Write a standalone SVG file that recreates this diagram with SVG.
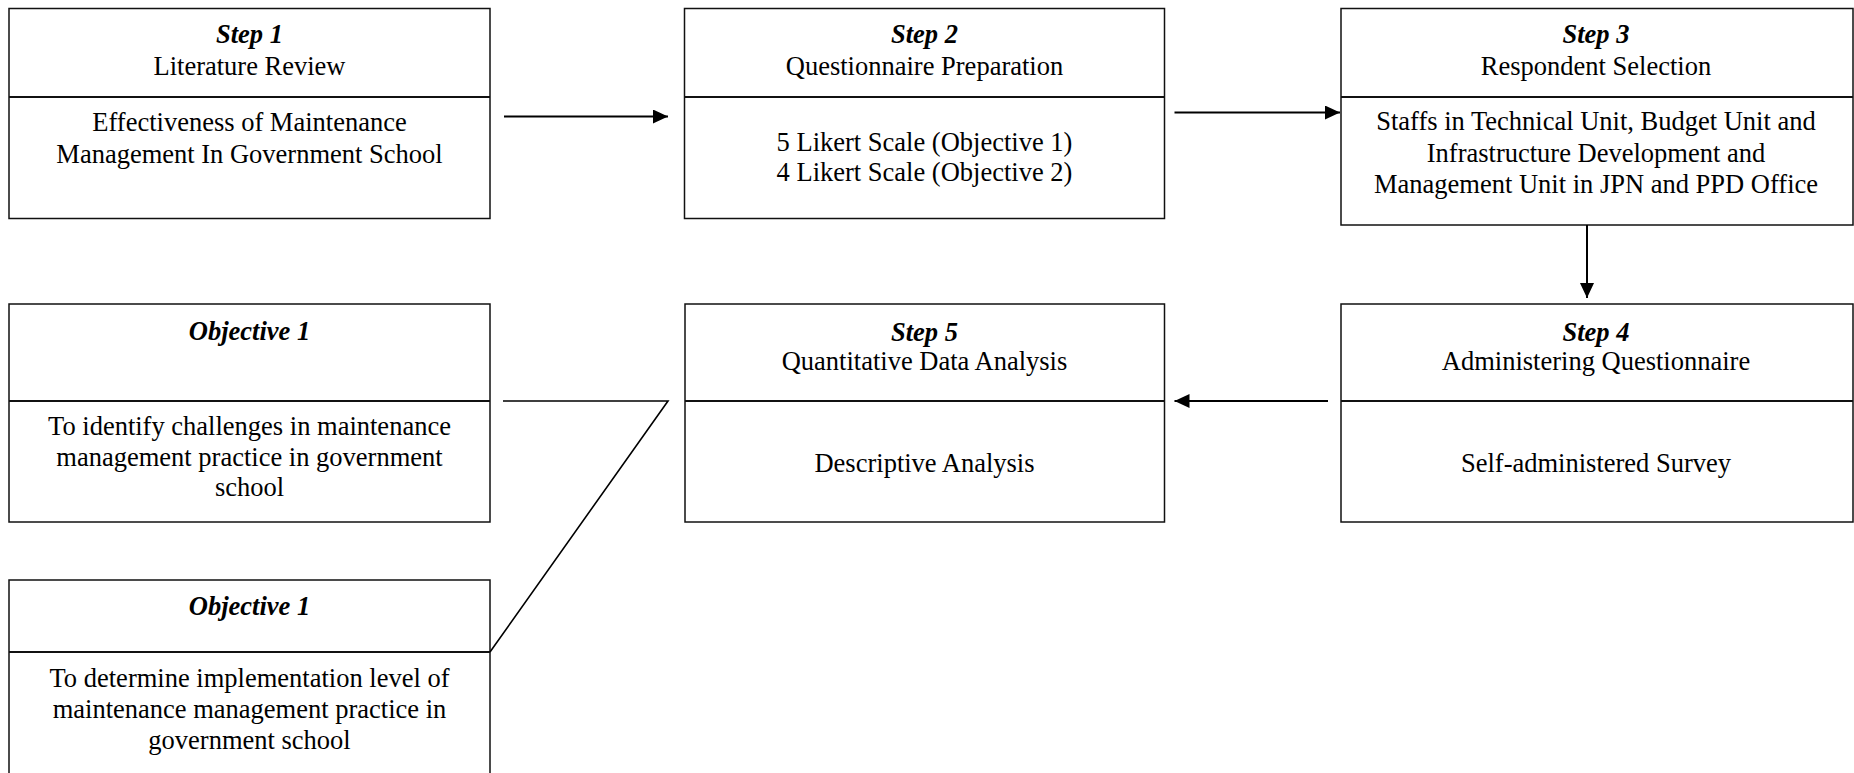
<svg xmlns="http://www.w3.org/2000/svg" width="1854" height="773" viewBox="0 0 1854 773">
<style>
.box{fill:#fff;stroke:#111;stroke-width:1.5}
.div{stroke:#111;stroke-width:2}
text{font-family:"Liberation Serif","Times New Roman",serif;font-size:26.5px;fill:#000;text-anchor:middle}
.h{font-weight:bold;font-style:italic}
.conn{fill:none;stroke:#000;stroke-width:2}
.plain{fill:none;stroke:#000;stroke-width:1.6}
</style>
<defs>
<marker id="ah" markerUnits="userSpaceOnUse" markerWidth="16" markerHeight="16" refX="15" refY="7" orient="auto">
<path d="M0,0 L15,7 L0,14 Z" fill="#000"/>
</marker>
</defs>
<rect width="1854" height="773" fill="#fff"/>
<g id="step1">
<rect class="box" x="9" y="8.5" width="481" height="210"/>
<line class="div" x1="9" y1="97" x2="490" y2="97"/>
<text x="249.5" y="43" class="h">Step 1</text>
<text x="249.5" y="75">Literature Review</text>
<text x="249.5" y="131">Effectiveness of Maintenance</text>
<text x="249.5" y="163">Management In Government School</text>
</g>
<g id="step2">
<rect class="box" x="684.5" y="8.5" width="480" height="210"/>
<line class="div" x1="684.5" y1="97" x2="1164.5" y2="97"/>
<text x="924.5" y="43" class="h">Step 2</text>
<text x="924.5" y="75">Questionnaire Preparation</text>
<text x="924.5" y="151">5 Likert Scale (Objective 1)</text>
<text x="924.5" y="181">4 Likert Scale (Objective 2)</text>
</g>
<g id="step3">
<rect class="box" x="1341" y="8.5" width="512" height="216.5"/>
<line class="div" x1="1341" y1="97" x2="1853" y2="97"/>
<text x="1596" y="43" class="h">Step 3</text>
<text x="1596" y="75">Respondent Selection</text>
<text x="1596" y="130">Staffs in Technical Unit, Budget Unit and</text>
<text x="1596" y="161.5">Infrastructure Development and</text>
<text x="1596" y="193">Management Unit in JPN and PPD Office</text>
</g>
<g id="step4">
<rect class="box" x="1341" y="304" width="512" height="218"/>
<line class="div" x1="1341" y1="401" x2="1853" y2="401"/>
<text x="1596" y="341" class="h">Step 4</text>
<text x="1596" y="370">Administering Questionnaire</text>
<text x="1596" y="472">Self-administered Survey</text>
</g>
<g id="step5">
<rect class="box" x="685" y="304" width="479.5" height="218"/>
<line class="div" x1="685" y1="401" x2="1164.5" y2="401"/>
<text x="924.5" y="341" class="h">Step 5</text>
<text x="924.5" y="370">Quantitative Data Analysis</text>
<text x="924.5" y="472">Descriptive Analysis</text>
</g>
<g id="objective1a">
<rect class="box" x="9" y="304" width="481" height="218"/>
<line class="div" x1="9" y1="401" x2="490" y2="401"/>
<text x="249.5" y="340" class="h">Objective 1</text>
<text x="249.5" y="435">To identify challenges in maintenance</text>
<text x="249.5" y="466">management practice in government</text>
<text x="249.5" y="496">school</text>
</g>
<g id="objective1b">
<rect class="box" x="9" y="580" width="481" height="210"/>
<line class="div" x1="9" y1="652" x2="490" y2="652"/>
<text x="249.5" y="615" class="h">Objective 1</text>
<text x="249.5" y="687">To determine implementation level of</text>
<text x="249.5" y="717.5">maintenance management practice in</text>
<text x="249.5" y="749">government school</text>
</g>
<g id="connectors">
<line class="conn" x1="504" y1="116.5" x2="668" y2="116.5" marker-end="url(#ah)"/>
<line class="conn" x1="1174.5" y1="112.5" x2="1340" y2="112.5" marker-end="url(#ah)"/>
<line class="conn" x1="1587" y1="225" x2="1587" y2="298" marker-end="url(#ah)"/>
<line class="conn" x1="1328" y1="401" x2="1174.5" y2="401" marker-end="url(#ah)"/>
<polyline class="plain" points="503,401 668,401 490,652"/>
</g>
</svg>
